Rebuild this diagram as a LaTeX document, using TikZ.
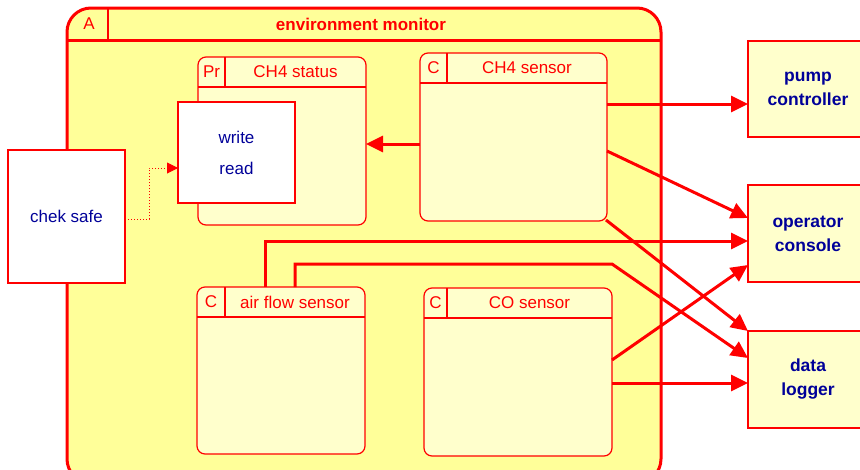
\documentclass[tikz,border=0pt]{standalone}
\usepackage{fontspec}
\setmainfont{Liberation Sans}
\usetikzlibrary{arrows.meta,calc}
\definecolor{mred}{HTML}{FF0000}
\definecolor{envfill}{HTML}{FFFF99}
\definecolor{compfill}{HTML}{FFFFCC}
\definecolor{navy}{HTML}{000099}

% component box: name, north-west corner, width, height, kind-cell width, header height, kind, title
\newcommand\mkcomp[8]{%
  \node[comp, minimum width=#3pt, minimum height=#4pt] (#1) at (#2) {};
  \draw[hdr] ([yshift=-#6pt]#1.north west) -- ([yshift=-#6pt]#1.north east);
  \draw[hdr] ([xshift=#5pt]#1.north west) -- ([xshift=#5pt,yshift=-#6pt]#1.north west);
  \node[title] (#1-kind) at ($([xshift=#5pt]#1.north west)!0.5!([yshift=-#6pt]#1.north west)$) {#7};
  \node[title] (#1-name) at ($([xshift=#5pt]#1.north west)!0.5!([yshift=-#6pt]#1.north east)$) {#8};
}

\begin{document}
\begin{tikzpicture}[x=1pt,y=-1pt,
  box/.style={draw=mred, line width=1.2pt, anchor=north west, inner sep=0pt, outer sep=0pt},
  comp/.style={box, fill=compfill, rounded corners=8pt},
  ext/.style={box, fill=compfill, align=center, text=navy,
    font=\fontsize{17.5}{24}\selectfont\bfseries},
  plain/.style={box, fill=white, align=center, text=navy},
  hdr/.style={draw=mred, line width=1.2pt},
  title/.style={text=mred, inner sep=0pt, font=\fontsize{17}{20}\selectfont},
  conn/.style={draw=mred, line width=3pt, -{Triangle[length=17pt,width=16pt]}},
  dotconn/.style={draw=mred, line width=1pt, dotted, -{Triangle[length=11pt,width=11pt]}}]

\useasboundingbox (0,0) rectangle (860,469);
\clip (0,0) rectangle (860,469);

% the enclosing activity
\node[box, fill=envfill, line width=3pt, rounded corners=24pt,
  minimum width=594pt, minimum height=475pt] (env) at (67,8) {};
\draw[draw=mred, line width=3pt] ([yshift=-32pt]env.north west) -- ([yshift=-32pt]env.north east);
\draw[draw=mred, line width=2.5pt] ([xshift=41pt]env.north west) -- ([xshift=41pt,yshift=-32pt]env.north west);
\node[title] (env-kind) at ([xshift=22pt,yshift=-16pt]env.north west) {A};
\node[title, font=\fontsize{17}{20}\selectfont\bfseries] (env-name)
  at ([xshift=294pt,yshift=-16pt]env.north west) {environment monitor};

% components inside
\mkcomp{stat}{198,57}{168}{168}{27}{30}{Pr}{CH4 status}
\mkcomp{ch4sens}{420,53}{187}{168}{27}{30}{C}{CH4 sensor}
\mkcomp{air}{197,287}{168}{167}{28}{30}{C}{air flow sensor}
\mkcomp{co}{424,288}{188}{168}{23}{30}{C}{CO sensor}

\node[plain, minimum width=117pt, minimum height=101pt,
  font=\fontsize{17}{31}\selectfont] (wr) at (178,102) {write\\read};
\node[plain, minimum width=117pt, minimum height=133pt,
  font=\fontsize{17}{20}\selectfont] (chk) at (8,150) {chek safe};

% external units
\node[ext, minimum width=120pt, minimum height=96pt] (pump) at (748,41) {pump\\controller};
\node[ext, minimum width=120pt, minimum height=97pt] (console) at (748,185) {operator\\console};
\node[ext, minimum width=120pt, minimum height=97pt] (logger) at (748,331) {data\\logger};

% data flows
\draw[dotconn] ([yshift=-69pt]chk.north east) -- ++(24,0) |- ([yshift=-66pt]wr.north west);
\draw[conn] ([yshift=-91pt]ch4sens.north west) -- ([yshift=-87pt]stat.north east);
\draw[conn] ([yshift=-51pt]ch4sens.north east) -- ([yshift=-63pt]pump.north west);
\draw[conn] ([yshift=-98pt]ch4sens.north east) -- ([yshift=-33pt]console.north west);
\draw[conn] ([xshift=-1pt,yshift=1pt]ch4sens.south east) -- (logger.north west);
\draw[conn] ([xshift=68pt]air.north west) |- ([yshift=-56pt]console.north west);
\draw[conn] ([xshift=98pt]air.north west) -- ++(0,-23) coordinate (bend)
  -- (bend -| co.east) -- ([yshift=-27pt]logger.north west);
\draw[conn] ([yshift=-72pt]co.north east) -- ([yshift=-80pt]console.north west);
\draw[conn] ([yshift=-95pt]co.north east) -- ([yshift=-52pt]logger.north west);

\end{tikzpicture}
\end{document}
